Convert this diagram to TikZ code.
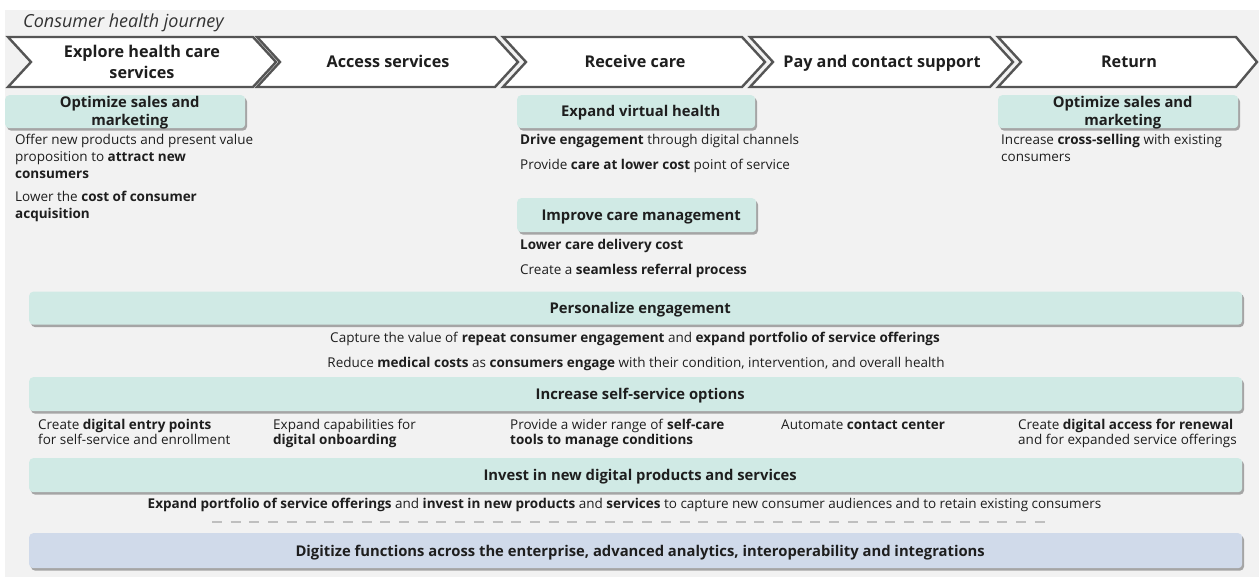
\documentclass[tikz,border=0pt]{standalone}
\usepackage{fontspec}
\setmainfont{Open Sans}
\usetikzlibrary{shadows}

\definecolor{panel}{HTML}{F2F2F2}
\definecolor{mint}{HTML}{D0EAE5}
\definecolor{haze}{HTML}{D0DAEA}
\definecolor{rim}{HTML}{555555}
\definecolor{ink}{HTML}{1E1E1E}
\definecolor{dashgray}{HTML}{BFBFBF}

% font sizes (1pt = 1 unit of the picture)
\newcommand{\titlefnt}{\fontsize{18}{21}\itshape\selectfont}
\newcommand{\chevfnt}{\fontsize{16.2}{21}\bfseries\selectfont}
\newcommand{\cardfnt}{\fontsize{14.8}{18}\bfseries\selectfont}
\newcommand{\bodyfnt}{\fontsize{13.5}{17}\selectfont}
\newcommand{\colfnt}{\fontsize{13.5}{15.5}\selectfont}

\tikzset{
  chev/.style={draw=rim, line width=2.4pt, fill=white, line join=miter},
  card/.style={fill=mint, rounded corners=4pt, inner sep=0pt, anchor=north west,
    drop shadow={shadow xshift=1.8pt, shadow yshift=-2.4pt, fill=black!60, opacity=.55}},
  basecard/.style={card, fill=haze},
  cardtext/.style={font=\cardfnt, text=ink, align=center, inner sep=0pt, anchor=base},
  chevtext/.style={font=\chevfnt, text=ink, align=center, inner sep=0pt, anchor=base},
  body/.style={font=\bodyfnt, text=ink, align=left, inner sep=0pt, anchor=base west},
  midline/.style={font=\bodyfnt, text=ink, inner sep=0pt, anchor=base},
  col/.style={font=\colfnt, text=ink, align=left, inner sep=0pt, anchor=base west},
}

\begin{document}
\begin{tikzpicture}[x=1pt,y=-1pt]
\useasboundingbox (0,0) rectangle (1259,577);
\fill[panel] (5,10) rectangle (1259,577);

% title
\node[font=\titlefnt, text=black!80, anchor=base west, inner sep=0pt] (title) at (23,27.5) {Consumer health journey};

% journey chevrons
\draw[chev] (8,37) -- (253,37) -- (276,62) -- (253,87) -- (8,87) -- (31,62) -- cycle;
\draw[chev] (257,37) -- (495,37) -- (518,62) -- (495,87) -- (257,87) -- (280,62) -- cycle;
\draw[chev] (503,37) -- (742,37) -- (765,62) -- (742,87) -- (503,87) -- (526,62) -- cycle;
\draw[chev] (750,37) -- (990,37) -- (1013,62) -- (990,87) -- (750,87) -- (773,62) -- cycle;
\draw[chev] (998,37) -- (1236,37) -- (1257,62) -- (1236,87) -- (998,87) -- (1021,62) -- cycle;

% stage names (base anchor = baseline of the last line)
\node[chevtext] (stage1) at (142,78.8) {Explore health care\\services};
\node[chevtext] (stage2) at (388,67.8) {Access services};
\node[chevtext] (stage3) at (635,67.8) {Receive care};
\node[chevtext] (stage4) at (882,67.8) {Pay and contact support};
\node[chevtext] (stage5) at (1129,67.8) {Return};

% stage cards
\node[card, minimum width=240pt, minimum height=33pt] (optL) at (5,95) {};
\node[cardtext] (optLt) at ([xshift=4.5pt,yshift=-13.5pt]optL.center) {Optimize sales and\\marketing};
\node[card, minimum width=238pt, minimum height=33pt] (virt) at (517,95) {};
\node[cardtext] (virtt) at ([xshift=4.5pt,yshift=-5.3pt]virt.center) {Expand virtual health};
\node[card, minimum width=239pt, minimum height=34pt] (care) at (517,198) {};
\node[cardtext] (caret) at ([xshift=4.5pt,yshift=-5.3pt]care.center) {Improve care management};
\node[card, minimum width=240pt, minimum height=33pt] (optR) at (998,95) {};
\node[cardtext] (optRt) at ([xshift=4.5pt,yshift=-13.5pt]optR.center) {Optimize sales and\\marketing};

% stage texts
\node[body] (optL1) at (15,178.5) {Offer new products and present value\\proposition to \textbf{attract new}\\\textbf{consumers}};
\node[body] (optL2) at (15,218.5) {Lower the \textbf{cost of consumer}\\\textbf{acquisition}};
\node[body] (virt1) at (520,144.5) {\textbf{Drive engagement} through digital channels};
\node[body] (virt2) at (520,169.5) {Provide \textbf{care at lower cost} point of service};
\node[body] (care1) at (520,249.5) {\textbf{Lower care delivery cost}};
\node[body] (care2) at (520,274.5) {Create a \textbf{seamless referral process}};
\node[body] (optR1) at (1001,161.5) {Increase \textbf{cross-selling} with existing\\consumers};

% personalize engagement
\node[card, minimum width=1213pt, minimum height=33pt] (pers) at (29,291.5) {};
\node[cardtext] (perst) at ([xshift=4.5pt,yshift=-5.3pt]pers.center) {Personalize engagement};
\node[midline] (pers1) at (635,342.5) {Capture the value of \textbf{repeat consumer engagement} and \textbf{expand portfolio of service offerings}};
\node[midline] (pers2) at (636,367.5) {Reduce \textbf{medical costs} as \textbf{consumers engage} with their condition, intervention, and overall health};

% self-service options
\node[card, minimum width=1213pt, minimum height=34pt] (self) at (29,377) {};
\node[cardtext] (selft) at ([xshift=4.5pt,yshift=-5.3pt]self.center) {Increase self-service options};
\node[col] (self1) at (38,444.5) {Create \textbf{digital entry points}\\for self-service and enrollment};
\node[col] (self2) at (273,444.5) {Expand capabilities for\\\textbf{digital onboarding}};
\node[col] (self3) at (510,444.5) {Provide a wider range of \textbf{self-care}\\\textbf{tools to manage conditions}};
\node[col] (self4) at (781,429) {Automate \textbf{contact center}};
\node[col] (self5) at (1018,444.5) {Create \textbf{digital access for renewal}\\and for expanded service offerings};

% new digital products
\node[card, minimum width=1213pt, minimum height=34pt] (inv) at (29,458) {};
\node[cardtext] (invt) at ([xshift=4.5pt,yshift=-5.3pt]inv.center) {Invest in new digital products and services};
\node[midline] (inv1) at (624.5,508.5) {\textbf{Expand portfolio of service offerings} and \textbf{invest in new products} and \textbf{services} to capture new consumer audiences and to retain existing consumers};

% separator and enterprise foundation
\coordinate (sepL) at (212,522);
\coordinate (sepR) at (1051,522);
\draw[dashgray, line width=2pt, dash pattern=on 10pt off 8.7pt] (sepL) -- (sepR);
\node[basecard, minimum width=1213pt, minimum height=35pt] (base) at (29,533) {};
\node[cardtext] (baset) at ([xshift=4.5pt,yshift=-5.3pt]base.center) {Digitize functions across the enterprise, advanced analytics, interoperability and integrations};
\end{tikzpicture}
\end{document}
